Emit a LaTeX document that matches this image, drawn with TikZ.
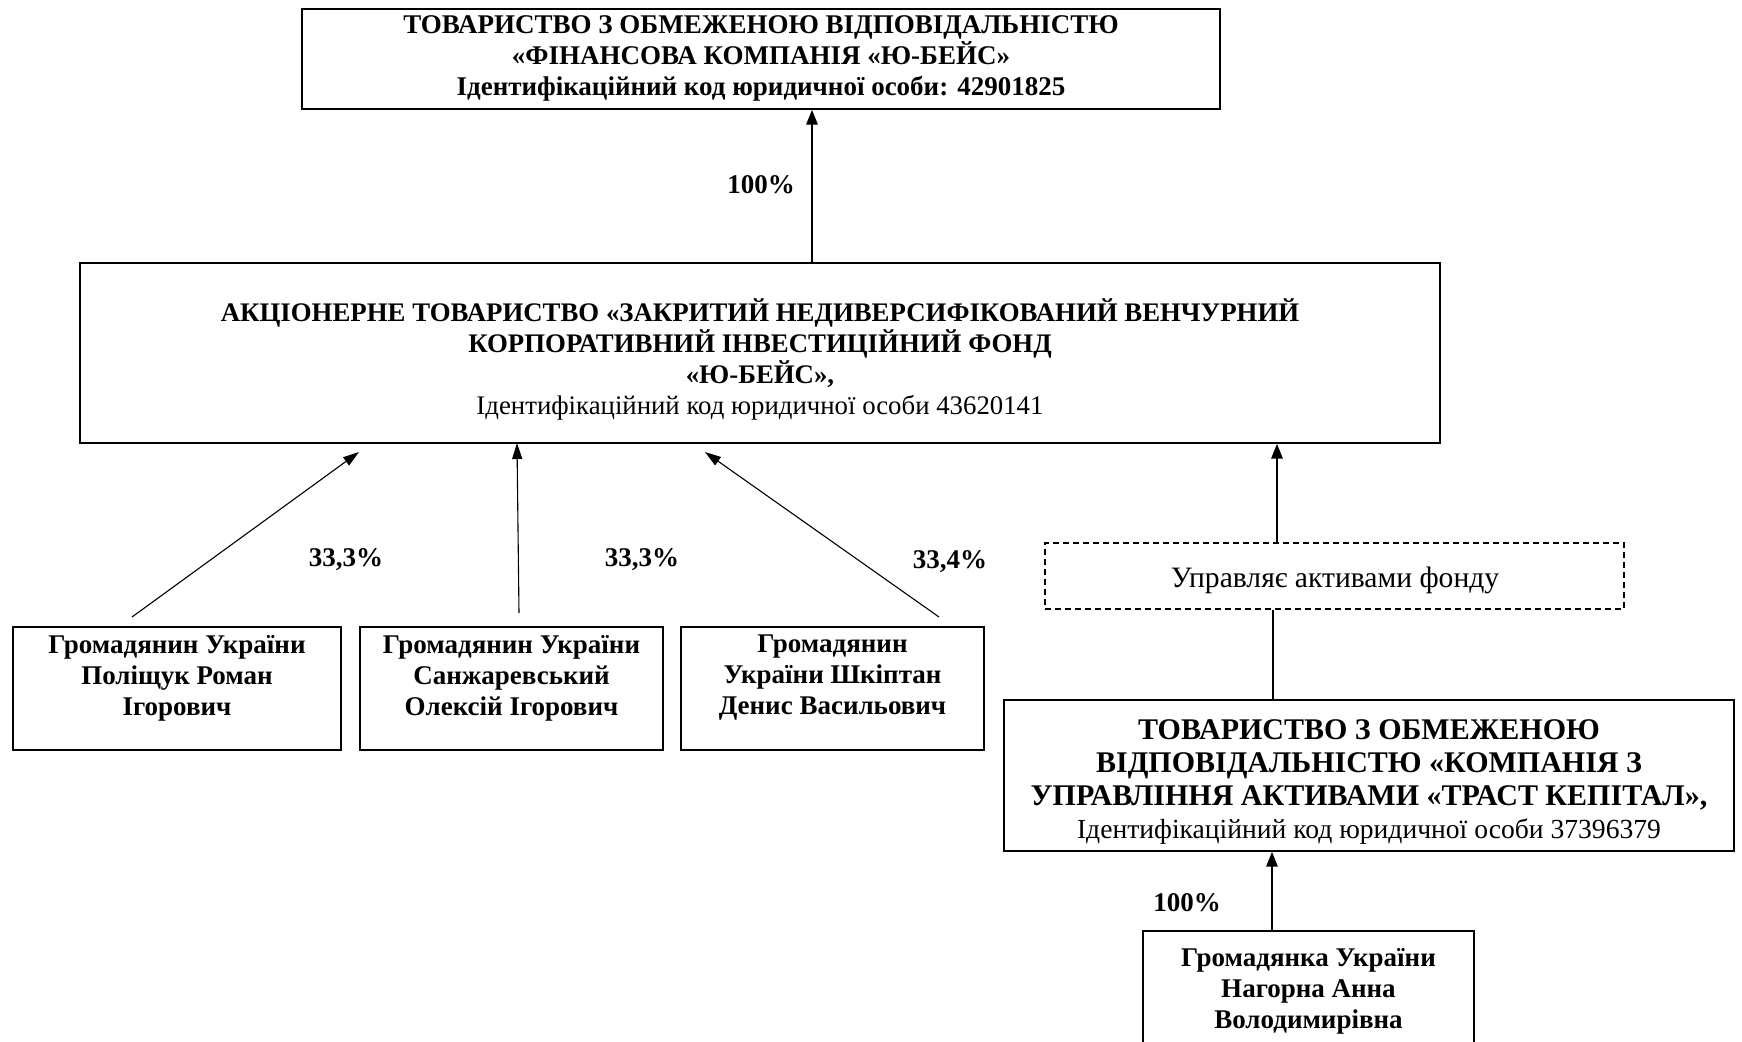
\documentclass[tikz,border=0pt]{standalone}
\usepackage{fontspec}
\setmainfont{Liberation Serif}
\usetikzlibrary{fit,arrows.meta}
\begin{document}
\begin{tikzpicture}[x=0.5pt,y=-0.5pt,
  box/.style={draw, inner sep=0pt, line width=0.6pt},
  pbox/.style={draw, inner sep=0pt, line width=1.2pt},
  dbox/.style={draw, inner sep=0pt, line width=0.7pt, dash pattern=on 3pt off 2pt},
  bt/.style={font=\fontsize{13.5}{15.5}\selectfont\bfseries, align=center, inner sep=0pt},
  bigt/.style={font=\fontsize{15}{16.5}\selectfont\bfseries, align=center, inner sep=0pt},
  rt/.style={font=\fontsize{14.8}{16}\selectfont, align=center, inner sep=0pt},
  thickarr/.style={line width=1.4pt, -{Triangle[length=7.5pt,width=5.5pt]}},
  thinarr/.style={line width=0.55pt, -{Triangle[length=8pt,width=5pt]}},
  plain/.style={line width=0.75pt}
]
\useasboundingbox (0,0) rectangle (1742,1042);
\fill[white] (0,0) rectangle (1742,1042);

% boxes
\node[box, fit={(302,9) (1220,109)}] (top) {};
\node[box, fit={(80,263) (1440,443)}] (fund) {};
\node[pbox, fit={(13,627) (341,750)}] (p1) {};
\node[pbox, fit={(360,627) (663,750)}] (p2) {};
\node[pbox, fit={(681,627) (984,750)}] (p3) {};
\node[dbox, fit={(1045,543) (1624,609)}] (mng) {};
\node[box, fit={(1004,700) (1734,851)}] (tov) {};
\node[box, fit={(1143,931) (1474,1046)}] (nag) {};

% texts
\node[bt] at (761,58.5) {ТОВАРИСТВО З ОБМЕЖЕНОЮ ВІДПОВІДАЛЬНІСТЮ\\«ФІНАНСОВА КОМПАНІЯ «Ю-БЕЙС»\\Ідентифікаційний код юридичної особи: 42901825};
\node[bt, font=\fontsize{13.4}{15.5}\selectfont\bfseries] at (760,359) {АКЦІОНЕРНЕ ТОВАРИСТВО «ЗАКРИТИЙ НЕДИВЕРСИФІКОВАНИЙ ВЕНЧУРНИЙ\\КОРПОРАТИВНИЙ ІНВЕСТИЦІЙНИЙ ФОНД\\«Ю-БЕЙС»,\\\mdseries Ідентифікаційний код юридичної особи 43620141};
\node[bt] at (177,678) {Громадянин України\\Поліщук Роман\\Ігорович};
\node[bt] at (511.5,678) {Громадянин України\\Санжаревський\\Олексій Ігорович};
\node[bt] at (832.5,678) {Громадянин\\України Шкіптан\\Денис Васильович};
\node[rt] at (1335,580) {Управляє активами фонду};
\node[bigt] at (1369,782.5) {ТОВАРИСТВО З ОБМЕЖЕНОЮ\\ВІДПОВІДАЛЬНІСТЮ «КОМПАНІЯ З\\УПРАВЛІННЯ АКТИВАМИ «ТРАСТ КЕПІТАЛ»,\\\mdseries\fontsize{13.8}{16}\selectfont Ідентифікаційний код юридичної особи 37396379};
\node[bt] at (1308.5,991) {Громадянка України\\Нагорна Анна\\Володимирівна};

% labels
\node[bt] (l0) at (761,185) {100\%};
\node[bt] (l1) at (346,560) {33,3\%};
\node[bt] (l2) at (642,560) {33,3\%};
\node[bt] (l3) at (950,562) {33,4\%};
\node[bt] (l4) at (1187,903) {100\%};

% connector coordinates
\coordinate (a0) at (812,0);
\coordinate (s1) at (132,617);
\coordinate (e1) at (359,452);
\coordinate (s2) at (519,613);
\coordinate (e2) at (517,443);
\coordinate (s3) at (939,617);
\coordinate (e3) at (705,452);
\coordinate (a4) at (1277,0);
\coordinate (a5) at (1273,0);
\coordinate (a6) at (1272,0);

% connectors
\draw[thickarr] (fund.north -| a0) -- (top.south -| a0);
\draw[thinarr] (s1) -- (e1);
\draw[thinarr] (s2) -- (e2);
\draw[thinarr] (s3) -- (e3);
\draw[thickarr] (mng.north -| a4) -- (fund.south -| a4);
\draw[plain] (tov.north -| a5) -- (mng.south -| a5);
\draw[thickarr] (nag.north -| a6) -- (tov.south -| a6);
\end{tikzpicture}
\end{document}
